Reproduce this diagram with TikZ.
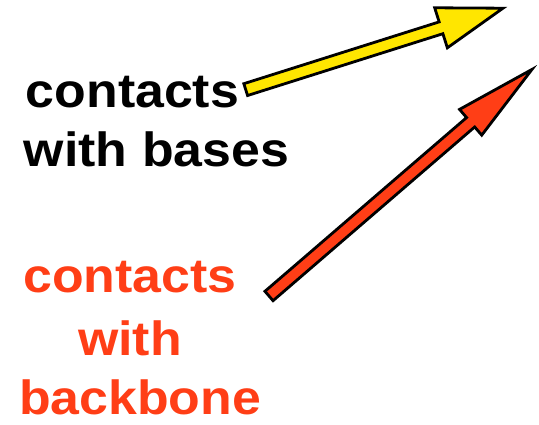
\documentclass[tikz,border=0pt]{standalone}
\usepackage{fontspec}
\setmainfont{Liberation Sans}
\usetikzlibrary{calc}
\definecolor{arrowyellow}{RGB}{255,230,0}
\definecolor{redorange}{RGB}{255,62,22}
\tikzset{
  lbl/.style={anchor=base, inner sep=0pt, font=\fontsize{48}{52}\selectfont\bfseries},
  blockarrow/.style={draw=black, line width=2.8pt, line join=miter}
}
\newcommand{\wide}[1]{\scalebox{1.08}[1]{#1}}
\begin{document}
\begin{tikzpicture}[x=1pt,y=-1pt]
\useasboundingbox (0,0) rectangle (539,424);
% text
\node[lbl, text=black] (b1) at (132.5,107) {\wide{contacts}};
\node[lbl, text=black] (b2) at (156.5,166) {\wide{with bases}};
\node[lbl, text=redorange] (r1) at (130,292) {\wide{contacts}};
\node[lbl, text=redorange] (r2) at (130,355) {\wide{with}};
\node[lbl, text=redorange] (r3) at (140,414) {\wide{backbone}};
% yellow arrow
\coordinate (yt) at (245.7,89.6);
\coordinate (yp) at (503,8.2);
\coordinate (yb) at ($(yp)!65pt!(yt)$);
\fill[arrowyellow] ($(yt)!6.2pt!90:(yp)$) -- ($(yb)!6.2pt!-90:(yt)$) -- ($(yb)!21pt!-90:(yt)$) -- (yp)
  -- ($(yb)!21pt!90:(yt)$) -- ($(yb)!6.2pt!90:(yt)$) -- ($(yt)!6.2pt!-90:(yp)$) -- cycle;
\draw[blockarrow] ($(yt)!6.2pt!90:(yp)$) -- ($(yb)!6.2pt!-90:(yt)$) -- ($(yb)!21pt!-90:(yt)$) -- (yp)
  -- ($(yb)!21pt!90:(yt)$) -- ($(yb)!6.2pt!90:(yt)$) -- ($(yt)!6.2pt!-90:(yp)$) -- cycle;
% red arrow
\coordinate (rt) at (269,296);
\coordinate (rp) at (532,69.4);
\coordinate (rb) at ($(rp)!81pt!(rt)$);
\fill[redorange] ($(rt)!6.2pt!90:(rp)$) -- ($(rb)!6.2pt!-90:(rt)$) -- ($(rb)!17pt!-90:(rt)$) -- (rp)
  -- ($(rb)!17pt!90:(rt)$) -- ($(rb)!6.2pt!90:(rt)$) -- ($(rt)!6.2pt!-90:(rp)$) -- cycle;
\draw[blockarrow] ($(rt)!6.2pt!90:(rp)$) -- ($(rb)!6.2pt!-90:(rt)$) -- ($(rb)!17pt!-90:(rt)$) -- (rp)
  -- ($(rb)!17pt!90:(rt)$) -- ($(rb)!6.2pt!90:(rt)$) -- ($(rt)!6.2pt!-90:(rp)$) -- cycle;
\end{tikzpicture}
\end{document}
